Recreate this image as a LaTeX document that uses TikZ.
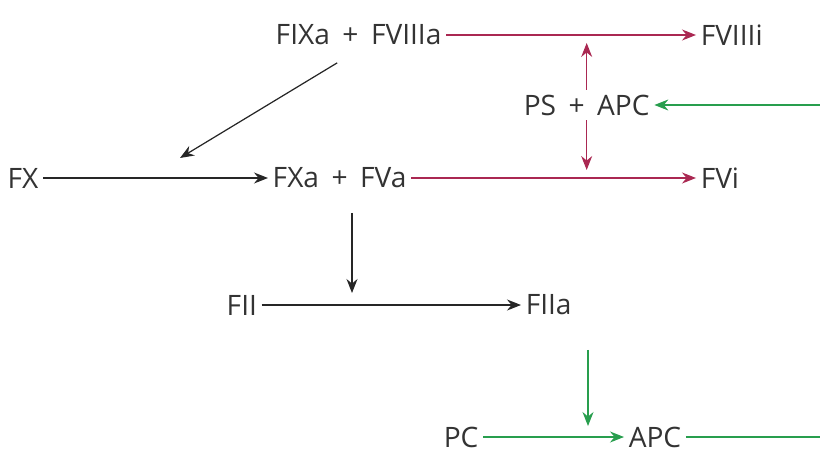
\documentclass[tikz,border=0pt]{standalone}
\usepackage{fontspec}
\setmainfont{Open Sans}
\usetikzlibrary{arrows.meta,positioning}
\definecolor{inhred}{RGB}{170,40,82}
\definecolor{apcgreen}{RGB}{40,158,78}
\newcommand\facfont{\fontsize{16}{18}\selectfont\spaceskip=0.25cm\relax}
\tikzset{
  fac/.style={anchor=west, inner sep=2.5pt, font=\facfont, text=black!80},
  arr/.style={-{Stealth[length=2.8mm,width=2.2mm]}, line width=0.7pt, draw=black!85},
  rarr/.style={arr, draw=inhred},
  garr/.style={arr, draw=apcgreen},
}
\begin{document}
\begin{tikzpicture}[x=0.02cm, y=-0.02cm]
\useasboundingbox (0,0) rectangle (820,456);

% factors
\node[fac] (fixa) at (271,35) {FIXa + FVIIIa};
\node[fac] (fviiii) at (696,35) {FVIIIi};
\node[fac] (psapc) at (519,105) {PS + APC};
\node[fac] (fx) at (3,178) {FX};
\node[fac] (fxa) at (268,178) {FXa + FVa};
\node[fac] (fvi) at (696,178) {FVi};
\node[fac] (fii) at (222,305) {FII};
\node[fac] (fiia) at (521,305) {FIIa};
\node[fac] (pc) at (439,437) {PC};
\node[fac] (apc) at (624,437) {APC};

\coordinate (fiiin) at (352,293);
\coordinate (apcin) at (588,426);
\coordinate (edgeA) at (820,105);
\coordinate (edgeB) at (820,437);

% activation
\draw[arr, shorten <=0.5cm] (fixa.south) -- (180,158);
\draw[arr] (fx) -- (fxa);
\draw[arr, shorten <=0.4cm] (fiiin |- fxa.south) -- (fiiin);
\draw[arr] (fii) -- (fiia);

% inhibition
\draw[rarr] (fixa) -- (fviiii);
\draw[rarr] (fxa) -- (fvi);
\draw[rarr, shorten >=0.16cm] (psapc.north) -- (psapc.north |- fixa.east);
\draw[rarr, shorten >=0.16cm] (psapc.south) -- (psapc.south |- fxa.east);

% protein C
\draw[garr, shorten <=0.6cm] (apcin |- fiia.south) -- (apcin);
\draw[garr] (pc) -- (apc);
\draw[line width=0.7pt, draw=apcgreen] (apc) -- (edgeB);
\draw[garr] (edgeA) -- (psapc);

\end{tikzpicture}
\end{document}
